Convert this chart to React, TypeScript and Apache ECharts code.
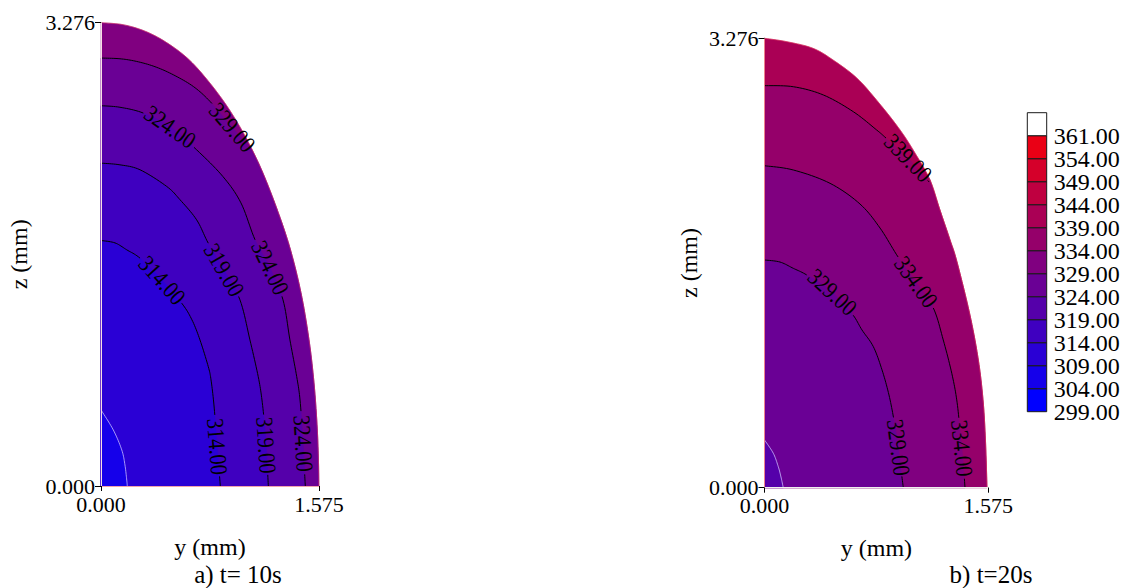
import { useEffect, useRef } from 'react';
import * as echarts from 'echarts';

const FONT = '"Liberation Serif", "Times New Roman", serif';

// axis extents (mm)
const yMaxMM = 1.575;
const zMaxMM = 3.276;

// legend
const legendLevels = [299, 304, 309, 314, 319, 324, 329, 334, 339, 344, 349, 354, 361];
const legendColors = [
  '#0000ff', '#1500ea', '#2a00d5', '#3f00c0', '#5500aa', '#6a0095',
  '#800080', '#95006a', '#aa0055', '#bf0040', '#d5002a', '#ea0015', '#ffffff',
];

// ---- panel a (t = 10 s) ----
const boundaryA = [
  [0, 3.276], [0.159, 3.262], [0.318, 3.216], [0.47, 3.138], [0.629, 3.021], [0.773, 2.866],
  [0.918, 2.675], [1.048, 2.462], [1.163, 2.229], [1.271, 1.96], [1.365, 1.684], [1.445, 1.366],
  [1.503, 1.033], [1.539, 0.729], [1.561, 0.432], [1.571, 0.184], [1.574, 0],
];
const contourA309 = [[0, 0.538], [0.089, 0.396], [0.15, 0.255], [0.173, 0.149], [0.186, 0.042], [0.19, 0]];
const contourA314 = [
  [0, 1.736], [0.101, 1.719], [0.186, 1.67], [0.282, 1.611], [0.426, 1.472], [0.583, 1.293],
  [0.657, 1.175], [0.715, 1.033], [0.775, 0.844], [0.795, 0.75], [0.816, 0.573], [0.836, 0.325],
  [0.853, 0.113], [0.862, 0],
];
const contourA319 = [
  [0, 2.283], [0.137, 2.271], [0.282, 2.236], [0.475, 2.118], [0.571, 2.024], [0.691, 1.882],
  [0.775, 1.717], [0.889, 1.528], [1.004, 1.316], [1.076, 1.033], [1.136, 0.773], [1.163, 0.608],
  [1.185, 0.396], [1.199, 0.184], [1.209, 0],
];
const contourA324 = [
  [0, 2.689], [0.137, 2.678], [0.306, 2.637], [0.499, 2.54], [0.691, 2.377], [0.881, 2.188],
  [1.011, 2.002], [1.113, 1.741], [1.221, 1.543], [1.315, 1.316], [1.365, 1.033], [1.414, 0.773],
  [1.438, 0.608], [1.459, 0.325], [1.47, 0.113], [1.476, 0],
];
const contourA329 = [
  [0, 3.026], [0.137, 3.021], [0.258, 3.002], [0.39, 2.965], [0.522, 2.908], [0.667, 2.825],
  [0.788, 2.719], [0.932, 2.554], [1.091, 2.377],
];
const levelsA = [309, 314, 319, 324, 329];
const labelsA = [
  [314, 0.434, 1.451], [314, 0.838, 0.29], [319, 0.881, 1.521], [319, 1.185, 0.29],
  [324, 0.48, 2.519], [324, 1.21, 1.535], [324, 1.462, 0.29], [329, 0.936, 2.54],
];

// ---- panel b (t = 20 s) ----
const boundaryB = [
  [0, 3.276], [0.158, 3.251], [0.341, 3.203], [0.482, 3.118], [0.651, 2.985], [0.806, 2.804],
  [0.954, 2.608], [1.059, 2.44], [1.165, 2.243], [1.235, 2.024], [1.306, 1.806], [1.355, 1.645],
  [1.446, 1.259], [1.505, 0.931], [1.538, 0.64], [1.555, 0.348], [1.566, 0],
];
const contourB324 = [[0, 0.348], [0.062, 0.251], [0.097, 0.153], [0.116, 0.078], [0.132, 0]];
const contourB329 = [
  [0, 1.66], [0.109, 1.645], [0.203, 1.599], [0.297, 1.551], [0.461, 1.441], [0.614, 1.271],
  [0.686, 1.15], [0.766, 1.028], [0.827, 0.859], [0.876, 0.676], [0.911, 0.494], [0.94, 0.311],
  [0.961, 0.129], [0.977, 0],
];
const contourB334 = [
  [0, 2.347], [0.203, 2.316], [0.461, 2.219], [0.672, 2.068], [0.813, 1.893], [0.94, 1.682],
  [1.066, 1.5], [1.188, 1.31], [1.258, 1.077], [1.318, 0.834], [1.353, 0.64], [1.376, 0.421],
  [1.397, 0.202], [1.411, 0],
];
const contourB339 = [
  [0, 2.931], [0.203, 2.923], [0.414, 2.863], [0.625, 2.741], [0.79, 2.607], [0.855, 2.549],
  [1.01, 2.404], [1.158, 2.229],
];
const levelsB = [324, 329, 334, 339];
const labelsB = [
  [339, 0.999, 2.389], [334, 1.063, 1.503], [329, 0.454, 1.412], [329, 0.942, 0.289], [334, 1.388, 0.287],
];

const captionA = 'a) t= 10s';
const captionB = 'b) t=20s';

const colorIdx = (lv: number) => Math.round((lv - 299) / 5);

function spline(pts: number[][], steps = 10): number[][] {
  if (pts.length < 3) return pts.slice();
  const out: number[][] = [];
  const n = pts.length;
  for (let i = 0; i < n - 1; i++) {
    const p0 = pts[Math.max(0, i - 1)], p1 = pts[i], p2 = pts[i + 1], p3 = pts[Math.min(n - 1, i + 2)];
    for (let s = 0; s < steps; s++) {
      const t = s / steps, t2 = t * t, t3 = t2 * t;
      const f = (a: number, b: number, c: number, d: number) =>
        0.5 * (2 * b + (-a + c) * t + (2 * a - 5 * b + 4 * c - d) * t2 + (-a + 3 * b - 3 * c + d) * t3);
      out.push([f(p0[0], p1[0], p2[0], p3[0]), f(p0[1], p1[1], p2[1], p3[1])]);
    }
  }
  out.push(pts[n - 1]);
  return out;
}

function makeRender(boundary: number[][], contours: number[][][], levels: number[], labels: number[][]) {
  return (_params: any, api: any) => {
    const px = (p: number[]) => api.coord(p) as number[];
    const origin = px([0, 0]);
    const bPx = spline(boundary.map(px));
    const children: any[] = [];
    const poly = (pts: number[][], fill: string) => ({
      type: 'polygon', shape: { points: pts }, style: { fill, stroke: fill, lineWidth: 0.5 },
    });
    children.push(poly([...bPx, origin], legendColors[colorIdx(levels[levels.length - 1])]));
    const curves = contours.map((c) => spline(c.map(px)));
    for (let k = contours.length - 1; k >= 0; k--) {
      const c = contours[k];
      let fillPts = curves[k];
      const last = c[c.length - 1];
      if (last[1] > 0.001) {
        const tail = [last, ...boundary.filter((p) => p[0] > last[0])];
        fillPts = fillPts.concat(spline(tail.map(px)).slice(1));
      }
      children.push(poly([...fillPts, origin], legendColors[colorIdx(levels[k]) - 1]));
    }
    children.push({
      type: 'polyline', shape: { points: bPx },
      style: { stroke: 'rgba(235,60,90,0.5)', lineWidth: 1, fill: null },
    });
    const placed = labels.map(([lv, y, z]) => {
      const k = levels.indexOf(lv);
      const curve = curves[k];
      const a = px([y, z]);
      let best = 0, bd = Infinity;
      curve.forEach((q, i) => {
        const d = (q[0] - a[0]) ** 2 + (q[1] - a[1]) ** 2;
        if (d < bd) { bd = d; best = i; }
      });
      const q0 = curve[Math.max(0, best - 2)], q1 = curve[Math.min(curve.length - 1, best + 2)];
      let dx = q1[0] - q0[0], dy = q1[1] - q0[1];
      if (dx < 0) { dx = -dx; dy = -dy; }
      return { k, c: curve[best], ang: Math.atan2(dy, dx), text: lv.toFixed(2) };
    });
    const HALF = 29;
    curves.forEach((curve, k) => {
      const gaps = placed.filter((p) => p.k === k);
      const segs: number[][][] = [];
      let seg: number[][] = [];
      for (const q of curve) {
        const inGap = gaps.some((g) => {
          const ux = q[0] - g.c[0], uy = q[1] - g.c[1];
          const u = ux * Math.cos(g.ang) + uy * Math.sin(g.ang);
          const v = -ux * Math.sin(g.ang) + uy * Math.cos(g.ang);
          return Math.abs(u) < HALF && Math.abs(v) < 8;
        });
        if (inGap) { if (seg.length > 1) segs.push(seg); seg = []; } else seg.push(q);
      }
      if (seg.length > 1) segs.push(seg);
      segs.forEach((s) => children.push({
        type: 'polyline', shape: { points: s },
        style: { stroke: k === 0 ? 'rgba(215,200,255,0.75)' : '#000', lineWidth: 1, fill: null },
      }));
    });
    placed.forEach((p) => children.push({
      type: 'text', x: p.c[0], y: p.c[1], rotation: -p.ang, scaleX: 0.86, scaleY: 1,
      style: {
        text: p.text, fill: '#000', fontSize: 24, fontFamily: FONT,
        align: 'center', verticalAlign: 'middle',
      },
    }));
    return { type: 'group', children };
  };
}

const tickFmt = (v: number) => v.toFixed(3);

function panelAxes(grid: number, topColor: string, rightColor: string, zGap: number, yGap: number) {
  const labelStyle = { color: '#000', fontSize: 22, fontFamily: FONT };
  const nameStyle = { color: '#000', fontSize: 24, fontFamily: FONT };
  const x = [
    {
      gridIndex: grid, type: 'value', min: 0, max: yMaxMM, interval: yMaxMM, position: 'bottom', z: 5,
      axisLine: { show: true, lineStyle: { color: '#000', width: 1 } },
      axisTick: { show: true, length: 5, lineStyle: { color: '#000' } },
      axisLabel: { ...labelStyle, formatter: tickFmt, margin: 7, showMinLabel: true, showMaxLabel: true },
      splitLine: { show: false },
      name: 'y (mm)', nameLocation: 'middle', nameGap: yGap, nameTextStyle: nameStyle,
    },
    {
      gridIndex: grid, type: 'value', min: 0, max: yMaxMM, position: 'top', z: 5,
      axisLine: { show: true, lineStyle: { color: topColor, width: 1 } },
      axisTick: { show: false }, axisLabel: { show: false }, splitLine: { show: false },
    },
  ];
  const y = [
    {
      gridIndex: grid, type: 'value', min: 0, max: zMaxMM, interval: zMaxMM, position: 'left', z: 5,
      axisLine: { show: true, lineStyle: { color: '#000', width: 1 } },
      axisTick: { show: true, length: 6, lineStyle: { color: '#000' } },
      axisLabel: { ...labelStyle, formatter: tickFmt, margin: 6, showMinLabel: true, showMaxLabel: true },
      splitLine: { show: false },
      name: 'z (mm)', nameLocation: 'middle', nameRotate: 90, nameGap: zGap, nameTextStyle: nameStyle,
    },
    {
      gridIndex: grid, type: 'value', min: 0, max: zMaxMM, position: 'right', z: 5,
      axisLine: { show: true, lineStyle: { color: rightColor, width: 1 } },
      axisTick: { show: false }, axisLabel: { show: false }, splitLine: { show: false },
    },
  ];
  return { x, y };
}

export default function App() {
  const ref = useRef<HTMLDivElement>(null);
  useEffect(() => {
    if (!ref.current) return;
    const chart = echarts.init(ref.current, undefined, { renderer: 'svg' });
    const axA = panelAxes(0, '#f2a2ac', '#f7dfe3', 70, 49);
    const axB = panelAxes(1, '#eeeeee', '#f0808e', 64, 48);
    const option: any = {
      animation: false,
      backgroundColor: '#ffffff',
      grid: [
        { left: 101, top: 22.7, width: 218, height: 463.3 },
        { left: 764.5, top: 38.3, width: 223.8, height: 449.4 },
        { left: 1027.3, top: 112.7, width: 19.4, height: 299 },
      ],
      xAxis: [
        ...axA.x, ...axB.x,
        { gridIndex: 2, type: 'value', min: 0, max: 1, show: false },
      ],
      yAxis: [
        ...axA.y, ...axB.y,
        { gridIndex: 2, type: 'value', min: 0, max: legendLevels.length, show: false },
      ],
      series: [
        {
          type: 'custom', xAxisIndex: 0, yAxisIndex: 0, data: [[0, 0]],
          renderItem: makeRender(boundaryA, [contourA309, contourA314, contourA319, contourA324, contourA329], levelsA, labelsA),
        },
        {
          type: 'custom', xAxisIndex: 2, yAxisIndex: 2, data: [[0, 0]],
          renderItem: makeRender(boundaryB, [contourB324, contourB329, contourB334, contourB339], levelsB, labelsB),
        },
        {
          type: 'custom', xAxisIndex: 4, yAxisIndex: 4,
          data: legendColors.map((_, i) => [0, i]),
          renderItem: (params: any, api: any) => {
            const i = params.dataIndex;
            const p0 = api.coord([0, i]);
            const p1 = api.coord([1, i + 1]);
            return {
              type: 'group',
              children: [
                {
                  type: 'rect',
                  shape: { x: p0[0], y: p1[1], width: p1[0] - p0[0], height: p0[1] - p1[1] },
                  style: { fill: legendColors[i], stroke: '#1a1a1a', lineWidth: 1 },
                },
                {
                  type: 'text', x: p1[0] + 7, y: p0[1],
                  style: {
                    text: legendLevels[i].toFixed(2), fill: '#000', fontSize: 24, fontFamily: FONT,
                    align: 'left', verticalAlign: 'middle',
                  },
                },
              ],
            };
          },
        },
      ],
      graphic: [
        {
          type: 'text', x: 238, y: 574,
          style: { text: captionA, fill: '#000', fontSize: 25, fontFamily: FONT, align: 'center', verticalAlign: 'middle' },
        },
        {
          type: 'text', x: 991, y: 574,
          style: { text: captionB, fill: '#000', fontSize: 25, fontFamily: FONT, align: 'center', verticalAlign: 'middle' },
        },
      ],
    };
    chart.setOption(option);
    return () => chart.dispose();
  }, []);
  return (
    <div
      ref={ref}
      style={{ position: 'fixed', left: 0, top: 0, width: 1127, height: 588, background: '#fff' }}
    />
  );
}
